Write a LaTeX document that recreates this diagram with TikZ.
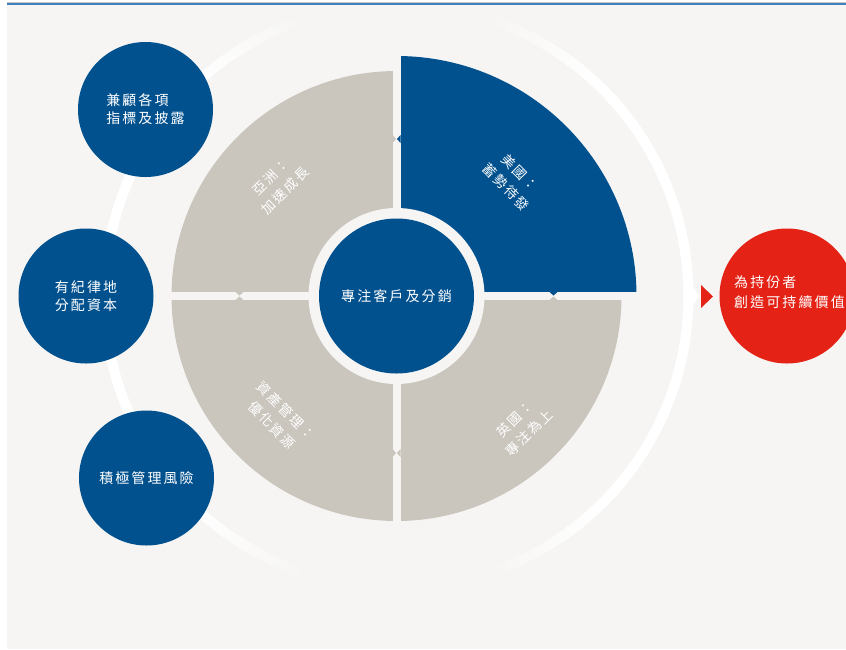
\documentclass[tikz,border=0pt]{standalone}
\usepackage{fontspec}
\newfontfamily\cjk[LetterSpace=15]{Noto Sans CJK TC}
\definecolor{bgc}{HTML}{F6F5F3}
\definecolor{hblue}{HTML}{02518F}
\definecolor{qgrey}{HTML}{CAC6BE}
\definecolor{hred}{HTML}{E42316}
\definecolor{topline}{HTML}{3F80BE}
\begin{document}
\begin{tikzpicture}[x=1pt,y=1pt,
  bubble/.style={circle, fill=hblue, minimum size=135pt, inner sep=0pt, text=white, align=left, font=\cjk\fontsize{14}{18}\selectfont},
  qlabel/.style={text=white, align=center, font=\cjk\fontsize{13.5}{20}\selectfont, inner sep=0pt},
  gapline/.style={draw=bgc, line width=8pt},
]
\useasboundingbox (0,0) rectangle (846,-649);
\clip (0,0) rectangle (846,-649);
% background
\fill[white] (0,0) rectangle (846,-649);
\fill[bgc] (7,-5) rectangle (846,-649);

\coordinate (C) at (396.5,-296);

% outer fading ring
\foreach \a in {0,2,...,358}{
  \pgfmathtruncatemacro\p{100*min(1,max(0,(abs(cos(\a+1))-0.33)*2.8))}
  \ifnum\p>0
  \draw[draw=white!\p!bgc, line width=10pt] (C) ++(\a:292) arc[start angle=\a, end angle=\a+2.6, radius=292];
  \fi
}
% top rule
\fill[white] (0,0) rectangle (846,-2);
\fill[black!22] (7,-2) rectangle (846,-3);
\fill[topline] (7,-3) rectangle (846,-4.8);

% chevron on ring and red arrow
\coordinate (chev) at (699,-296);
\fill[white] (691,-283) -- (chev) -- (691,-309) -- cycle;
\coordinate (arrtip) at (713,-296.5);
\fill[hred] (701,-285) -- (arrtip) -- (701,-308) -- cycle;

% quadrants
\fill[qgrey] (C) -- +(90:225) arc[start angle=90, end angle=180, radius=225] -- cycle;
\fill[hblue] (C) -- +(0:240) arc[start angle=0, end angle=90, radius=240] -- cycle;
\fill[qgrey] (C) -- +(270:225) arc[start angle=270, end angle=360, radius=225] -- cycle;
\fill[qgrey] (C) -- +(180:225) arc[start angle=180, end angle=270, radius=225] -- cycle;
% gaps
\draw[gapline] (C) ++(-245,0) -- ++(490,0);
\draw[gapline] (C) ++(0,-245) -- ++(0,490);
% notches
\fill[hblue] (400.5,-135) -- (400.5,-143) -- (397,-139) -- cycle;
\fill[qgrey] (392.5,-135) -- (392.5,-143) -- (396,-139) -- cycle;
\fill[hblue] (549.5,-292) -- (557.5,-292) -- (553.5,-295.5) -- cycle;
\fill[qgrey] (549.5,-300) -- (557.5,-300) -- (553.5,-296.5) -- cycle;
\fill[qgrey] (400.5,-449) -- (400.5,-457) -- (397,-453) -- cycle;
\fill[qgrey] (392.5,-449) -- (392.5,-457) -- (396,-453) -- cycle;
\fill[qgrey] (235.5,-292) -- (243.5,-292) -- (239.5,-295.5) -- cycle;
\fill[qgrey] (235.5,-300) -- (243.5,-300) -- (239.5,-296.5) -- cycle;

% centre
\fill[bgc] (C) circle[radius=88];
\node[bubble, minimum size=155pt, align=center] (core) at (C) {專注客戶及分銷};

% quadrant labels
\node[qlabel, rotate=45] (asia) at (278,-184) {亞洲：\\加速成長};
\node[qlabel, rotate=-45] (usa) at (513,-180) {美國：\\蓄勢待發};
\node[qlabel, rotate=-45] (am) at (279,-418) {資產管理：\\優化資源};
\node[qlabel, rotate=45] (uk) at (522,-426) {英國：\\專注為上};

% left bubbles
\node[bubble] (b1) at (145.5,-109.5) {兼顧各項\\指標及披露};
\node[bubble] (b2) at (86,-296) {有紀律地\\分配資本};
\node[bubble] (b3) at (146.5,-478) {積極管理風險};

% red bubble
\node[bubble, fill=hred] (red) at (787,-296) {};
\node[anchor=west, text=white, align=left, inner sep=0pt, font=\cjk\fontsize{14}{20}\selectfont] (redtxt) at (734,-292) {為持份者\\創造可持續價值};
\end{tikzpicture}
\end{document}
